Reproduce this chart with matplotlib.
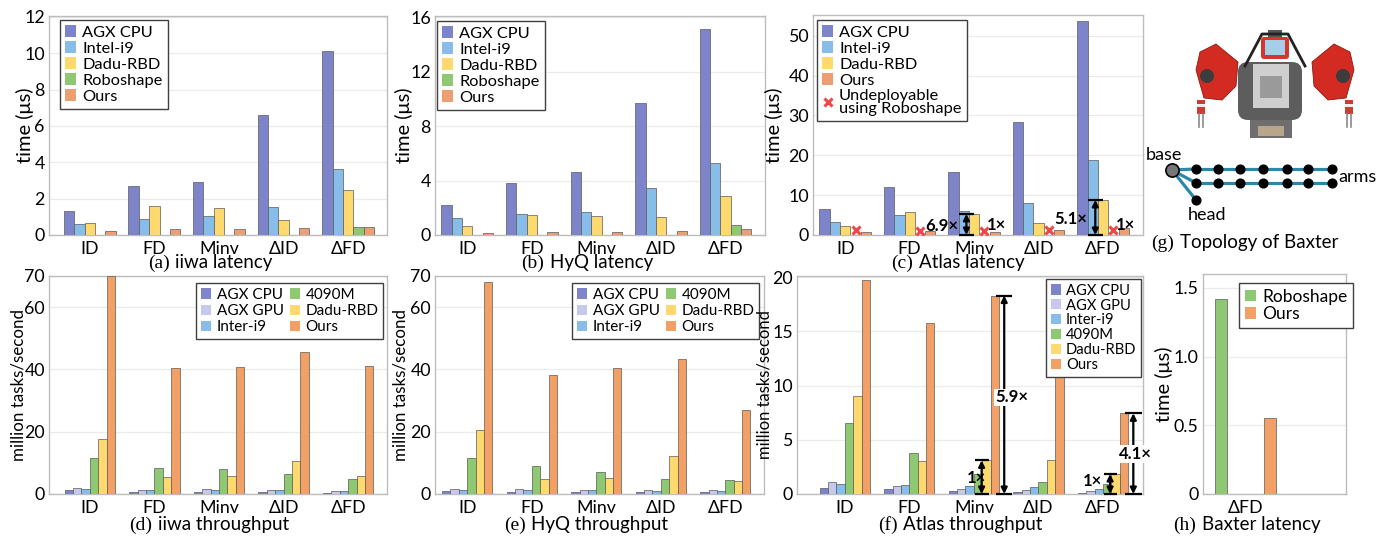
import matplotlib
matplotlib.use('Agg')
import matplotlib.pyplot as plt
from matplotlib.patches import Patch, Rectangle, Polygon, FancyBboxPatch, Circle
from matplotlib.lines import Line2D
from matplotlib.offsetbox import TextArea, HPacker, AnnotationBbox
import numpy as np

W, H = 1381, 540
plt.rcParams['font.family'] = ['Lato', 'DejaVu Sans']
nan = np.nan

groups = ['ID', 'FD', 'Minv', 'ΔID', 'ΔFD']

# ---------------- data ----------------
iiwa_lat_agx_cpu = [1.32, 2.72, 2.92, 6.58, 10.14]
iiwa_lat_intel_i9 = [0.60, 0.88, 1.04, 1.53, 3.62]
iiwa_lat_dadu = [0.64, 1.57, 1.50, 0.82, 2.50]
iiwa_lat_roboshape = [nan, nan, nan, nan, 0.46]
iiwa_lat_ours = [0.24, 0.31, 0.31, 0.37, 0.42]

hyq_lat_agx_cpu = [2.18, 3.85, 4.61, 9.68, 15.12]
hyq_lat_intel_i9 = [1.23, 1.57, 1.69, 3.43, 5.27]
hyq_lat_dadu = [0.64, 1.45, 1.40, 1.35, 2.87]
hyq_lat_roboshape = [nan, nan, nan, nan, 0.74]
hyq_lat_ours = [0.15, 0.22, 0.20, 0.27, 0.42]

atlas_lat_agx_cpu = [6.5, 12.1, 15.8, 28.3, 53.8]
atlas_lat_intel_i9 = [3.35, 5.0, 6.1, 8.0, 18.7]
atlas_lat_dadu = [2.26, 5.8, 5.3, 3.0, 8.8]
atlas_lat_undeployable = [1.2, 1.1, 1.1, 1.2, 1.3]
atlas_lat_ours = [0.75, 0.9, 0.75, 1.25, 1.7]

iiwa_tp_agx_cpu = [1.2, 0.75, 0.75, 0.5, 0.4]
iiwa_tp_agx_gpu = [1.8, 1.4, 1.6, 1.3, 1.0]
iiwa_tp_intel_i9 = [1.6, 1.4, 1.3, 1.2, 1.0]
iiwa_tp_4090m = [11.6, 8.2, 8.0, 6.3, 4.9]
iiwa_tp_dadu = [17.8, 5.4, 5.8, 10.7, 5.8]
iiwa_tp_ours = [70.0, 40.3, 40.9, 45.5, 41.0]

hyq_tp_agx_cpu = [0.85, 0.75, 0.65, 0.5, 0.5]
hyq_tp_agx_gpu = [1.7, 1.5, 1.4, 1.3, 1.2]
hyq_tp_intel_i9 = [1.4, 1.3, 1.3, 1.1, 1.1]
hyq_tp_4090m = [11.4, 9.1, 7.0, 4.9, 4.4]
hyq_tp_dadu = [20.5, 4.9, 5.0, 12.3, 4.3]
hyq_tp_ours = [68.2, 38.1, 40.3, 43.2, 26.9]

atlas_tp_agx_cpu = [0.55, 0.43, 0.3, 0.15, 0.1]
atlas_tp_agx_gpu = [1.15, 0.7, 0.5, 0.35, 0.25]
atlas_tp_intel_i9 = [0.95, 0.8, 0.7, 0.6, 0.45]
atlas_tp_4090m = [6.55, 3.8, 1.8, 1.13, 0.9]
atlas_tp_dadu = [9.0, 3.05, 3.1, 3.1, 1.84]
atlas_tp_ours = [19.75, 15.74, 18.3, 11.2, 7.44]

baxter_groups = ['ΔFD']
baxter_lat_roboshape = [1.42]
baxter_lat_ours = [0.55]

lat_labels = ['AGX CPU', 'Intel-i9', 'Dadu-RBD', 'Roboshape', 'Ours']
tp_labels = ['AGX CPU', 'AGX GPU', 'Inter-i9', '4090M', 'Dadu-RBD', 'Ours']

# ---------------- style ----------------
C_AGX_CPU = '#7d84c9'
C_AGX_GPU = '#c6c9ec'
C_I9 = '#87bde8'
C_DADU = '#fdd96f'
C_ROBO = '#8fc873'
C_OURS_LAT = '#eb9f72'
C_OURS = '#f3a066'
EDGE = '#5a5a5a'
SPINE = '#bdbdbd'
GRID = '#ebebeb'
RED_X = '#f04848'

fig = plt.figure(figsize=(W / 100, H / 100), dpi=100)


def add_ax(l, t, r, b):
    return fig.add_axes([l / W, 1 - b / H, (r - l) / W, (b - t) / H])


def style_ax(ax, xlim, ylim, yticks, ytlabels=None, xt=groups):
    ax.set_xlim(*xlim)
    ax.set_ylim(*ylim)
    ax.set_xticks(np.arange(len(xt)))
    ax.set_xticklabels(xt, fontsize=12.8)
    ax.set_yticks(yticks)
    if ytlabels is not None:
        ax.set_yticklabels(ytlabels)
    ax.tick_params(axis='both', length=0, labelsize=12.8, pad=3)
    ax.tick_params(axis='x', pad=4)
    for s in ax.spines.values():
        s.set_color(SPINE)
        s.set_linewidth(1.0)
    ax.grid(axis='y', color=GRID, linewidth=0.9, zorder=0)
    ax.set_axisbelow(True)


def draw_bars(ax, series, colors, width):
    n = len(series)
    x = np.arange(len(groups))
    for i, (vals, c) in enumerate(zip(series, colors)):
        off = (i - (n - 1) / 2) * width
        ax.bar(x + off, np.array(vals, dtype=float), width, color=c,
               edgecolor=EDGE, linewidth=0.5, zorder=3)


def set_ylabel(ax, text, px_x, l, r, fs=12.5):
    ax.set_ylabel(text, fontsize=fs, va='center')
    ax.yaxis.set_label_coords((px_x - l) / (r - l), 0.5)


def legend(ax, handles, labels, px_left, px_top, fs=11.8, ncol=1, spacing=0.1,
           colsp=0.55):
    lg = ax.legend(handles, labels, loc='upper left',
                   bbox_to_anchor=(px_left / W, 1 - px_top / H),
                   bbox_transform=fig.transFigure, borderaxespad=0,
                   ncol=ncol, fontsize=fs, frameon=True, fancybox=False,
                   framealpha=1, edgecolor='#404040', handlelength=0.68,
                   handleheight=0.68, handletextpad=0.35, borderpad=0.32,
                   labelspacing=spacing, columnspacing=colsp)
    lg.get_frame().set_linewidth(1.0)
    lg.set_zorder(10)
    return lg


def patches(colors):
    return [Patch(facecolor=c, edgecolor='none') for c in colors]


def caption(letter, rest, cx, cy):
    t1 = TextArea(letter, textprops=dict(family='Liberation Serif', size=14))
    t2 = TextArea(rest, textprops=dict(size=13.5))
    box = HPacker(children=[t1, t2], align='baseline', pad=0, sep=4)
    ab = AnnotationBbox(box, (cx / W, 1 - cy / H), xycoords='figure fraction',
                        frameon=False, box_alignment=(0.5, 0.5))
    fig.add_artist(ab)


def bracket(ax, x, top, half, lw=1.6):
    ax.annotate('', xy=(x, top), xytext=(x, 0),
                arrowprops=dict(arrowstyle='<|-|>', color='black', lw=lw,
                                mutation_scale=9, shrinkA=0, shrinkB=0),
                zorder=6, annotation_clip=False)
    ax.hlines([0, top], x - half, x + half, colors='black', linewidth=lw,
              zorder=6, clip_on=False)


lat_colors5 = [C_AGX_CPU, C_I9, C_DADU, C_ROBO, C_OURS_LAT]
tp_colors6 = [C_AGX_CPU, C_AGX_GPU, C_I9, C_ROBO, C_DADU, C_OURS]

# ---------------- (a) iiwa latency ----------------
pa = (49, 16, 387, 235)
ax = add_ax(*pa)
draw_bars(ax, [iiwa_lat_agx_cpu, iiwa_lat_intel_i9, iiwa_lat_dadu,
               iiwa_lat_roboshape, iiwa_lat_ours], lat_colors5, 0.16)
style_ax(ax, (-0.63, 4.6), (0, 12.05), [0, 2, 4, 6, 8, 10, 12])
set_ylabel(ax, 'time (μs)', 25, pa[0], pa[2], fs=14.5)
legend(ax, patches(lat_colors5), lat_labels, 60, 20)

# ---------------- (b) HyQ latency ----------------
pb = (435, 16, 765, 235)
ax = add_ax(*pb)
draw_bars(ax, [hyq_lat_agx_cpu, hyq_lat_intel_i9, hyq_lat_dadu,
               hyq_lat_roboshape, hyq_lat_ours], lat_colors5, 0.16)
style_ax(ax, (-0.5, 4.61), (0, 16.1), [0, 4, 8, 12, 16])
set_ylabel(ax, 'time (μs)', 404, pb[0], pb[2], fs=14.5)
legend(ax, patches(lat_colors5), lat_labels, 437, 21)

# ---------------- (c) Atlas latency ----------------
pc = (813, 15, 1143, 235)
ax = add_ax(*pc)
w = 0.16
xg = np.arange(len(groups))
draw_bars(ax, [atlas_lat_agx_cpu, atlas_lat_intel_i9, atlas_lat_dadu,
               [nan] * 5, atlas_lat_ours], [C_AGX_CPU, C_I9, C_DADU, C_ROBO, C_OURS_LAT], w)
ax.plot(xg + w, atlas_lat_undeployable, ls='none', marker='x', color=RED_X,
        ms=5.5, mew=2.2, zorder=5)
style_ax(ax, (-0.5, 4.62), (0, 55.2), [0, 10, 20, 30, 40, 50])
set_ylabel(ax, 'time (μs)', 774, pc[0], pc[2], fs=14.5)
hc = patches([C_AGX_CPU, C_I9, C_DADU, C_OURS_LAT]) + [
    Line2D([], [], ls='none', marker='x', color=RED_X, ms=5.5, mew=2.2)]
lg = legend(ax, hc, ['AGX CPU', 'Intel-i9', 'Dadu-RBD', 'Ours',
                     'Undeployable\nusing Roboshape'], 817, 20, spacing=0.1)
for t in lg.get_texts():
    t.set_linespacing(0.85)
lat_speedup_labels = ['6.9×', '5.1×']
lat_speedup_text_y = [2.3, 3.9]
for gi, lab, ty in zip([2, 4], lat_speedup_labels, lat_speedup_text_y):
    xa = gi - 0.12
    bracket(ax, xa, atlas_lat_dadu[gi], 0.12)
    ax.text(xa - 0.13, ty, lab, ha='right', va='center', fontsize=12,
            fontweight='bold', zorder=7)
    ax.text(gi + 0.2, 2.4, '1×', ha='left', va='center', fontsize=12,
            fontweight='bold', zorder=7)

# ---------------- (g) Topology of Baxter ----------------
ag = add_ax(1150, 0, 1381, 235)
ag.set_xlim(1150, 1381)
ag.set_ylim(235, 0)
ag.axis('off')
# simplified robot picture
ag.add_patch(Rectangle((1250, 116), 42, 22, facecolor='#6e6e6e', edgecolor='none'))
ag.add_patch(Rectangle((1258, 126), 26, 10, facecolor='#b8a58a', edgecolor='none'))
ag.add_patch(FancyBboxPatch((1238, 62), 64, 58, boxstyle='round,pad=0,rounding_size=10',
                            facecolor='#5d5d5d', edgecolor='none'))
ag.add_patch(Rectangle((1253, 64), 36, 44, facecolor='#cfcfcf', edgecolor='none'))
ag.add_patch(Rectangle((1260, 76), 22, 22, facecolor='#9a9a9a', edgecolor='none'))
ag.add_patch(Rectangle((1268, 30), 14, 8, facecolor='#555555', edgecolor='none'))
ag.add_patch(FancyBboxPatch((1261, 37), 28, 22, boxstyle='round,pad=0,rounding_size=3',
                            facecolor='#d9342b', edgecolor='none'))
ag.add_patch(Rectangle((1265, 40), 20, 15, facecolor='#a8cde8', edgecolor='none'))
for sgn in (-1, 1):
    cx = 1275
    pts = [(1238, 62), (1216, 44), (1200, 52), (1196, 70), (1204, 98), (1222, 100),
           (1236, 86)]
    pts = [(cx + sgn * (px - cx), py) for px, py in pts]
    ag.add_patch(Polygon(pts, closed=True, facecolor='#d32a22', edgecolor='#8a1a14',
                         linewidth=0.6))
    jx = cx + sgn * (1207 - cx)
    ag.add_patch(Circle((jx, 76), 7, facecolor='#3c3c3c', edgecolor='none'))
    gx = cx + sgn * (1201 - cx)
    ag.add_patch(Rectangle((gx - 4, 100), 8, 14, facecolor='#cf3a33', edgecolor='none'))
    ag.add_patch(Rectangle((gx - 4, 104), 8, 3, facecolor='#eeeeee', edgecolor='none'))
    ag.plot([gx - 2, gx - 2], [114, 127], color='#8a8a8a', lw=1.2)
    ag.plot([gx + 2, gx + 2], [114, 127], color='#8a8a8a', lw=1.2)
ag.plot([1245, 1262, 1288, 1305], [66, 34, 34, 66], color='#222222', lw=2)

# topology graph
base_xy = (1172, 170)
arm_rows_y = [169, 183]
arm_nodes_x = [1196, 1218, 1240, 1263, 1287, 1308, 1332]
head_xy = (1196, 200)
TEAL = '#2a88a8'
for yy in arm_rows_y:
    ag.plot([base_xy[0], arm_nodes_x[0]], [base_xy[1], yy], color=TEAL, lw=2.3, zorder=2)
    ag.plot([arm_nodes_x[0], arm_nodes_x[-1]], [yy, yy], color=TEAL, lw=2.3, zorder=2)
    ag.plot(arm_nodes_x, [yy] * len(arm_nodes_x), ls='none', marker='o', ms=6.3,
            color='black', zorder=3)
ag.plot([base_xy[0], head_xy[0]], [base_xy[1], head_xy[1]], color=TEAL, lw=2.3, zorder=2)
ag.plot([head_xy[0]], [head_xy[1]], ls='none', marker='o', ms=6.3, color='black', zorder=3)
ag.plot([base_xy[0]], [base_xy[1]], ls='none', marker='o', ms=9.5, mfc='#777777',
        mec='black', mew=1.2, zorder=4)
ag.text(1164, 155, 'base', ha='center', va='center', fontsize=13)
ag.text(1338, 177, 'arms', ha='left', va='center', fontsize=13)
ag.text(1207, 215, 'head', ha='center', va='center', fontsize=13)

# ---------------- (d) iiwa throughput ----------------
pd_ = (49, 276, 387, 494)
ax = add_ax(*pd_)
draw_bars(ax, [iiwa_tp_agx_cpu, iiwa_tp_agx_gpu, iiwa_tp_intel_i9, iiwa_tp_4090m,
               iiwa_tp_dadu, iiwa_tp_ours], tp_colors6, 0.13)
style_ax(ax, (-0.63, 4.6), (0, 70), [0, 20, 40, 60, 70])
set_ylabel(ax, 'million tasks/second', 18, pd_[0], pd_[2], fs=12.2)
legend(ax, patches(tp_colors6), tp_labels, 196, 283, ncol=2, fs=11, colsp=0.4,
       spacing=0.15)

# ---------------- (e) HyQ throughput ----------------
pe = (435, 276, 764, 494)
ax = add_ax(*pe)
draw_bars(ax, [hyq_tp_agx_cpu, hyq_tp_agx_gpu, hyq_tp_intel_i9, hyq_tp_4090m,
               hyq_tp_dadu, hyq_tp_ours], tp_colors6, 0.13)
style_ax(ax, (-0.5, 4.6), (0, 70), [0, 20, 40, 60, 70])
set_ylabel(ax, 'million tasks/second', 400, pe[0], pe[2], fs=12.2)
legend(ax, patches(tp_colors6), tp_labels, 572, 283, ncol=2, fs=11, colsp=0.4,
       spacing=0.15)

# ---------------- (f) Atlas throughput ----------------
pf = (797, 276, 1143, 494)
ax = add_ax(*pf)
draw_bars(ax, [atlas_tp_agx_cpu, atlas_tp_agx_gpu, atlas_tp_intel_i9, atlas_tp_4090m,
               atlas_tp_dadu, atlas_tp_ours], tp_colors6, 0.13)
style_ax(ax, (-0.74, 4.62), (0, 20.1), [0, 5, 10, 15, 20])
set_ylabel(ax, 'million tasks/second', 765, pf[0], pf[2], fs=12)
legend(ax, patches(tp_colors6), tp_labels, 1046, 279, fs=10.6, spacing=0.06)
# speedup brackets
bracket(ax, 2.12, atlas_tp_dadu[2], 0.11)
ax.text(2.04, 1.5, '1×', ha='center', va='center', fontsize=12, fontweight='bold', zorder=7)
bracket(ax, 2.47, atlas_tp_ours[2], 0.12)
ax.text(2.58, 8.9, '5.9×', ha='center', va='center', fontsize=12, fontweight='bold', zorder=7,
        bbox=dict(facecolor='white', edgecolor='none', pad=0.5))
bracket(ax, 4.11, atlas_tp_dadu[4], 0.1)
ax.text(3.99, 1.2, '1×', ha='right', va='center', fontsize=12, fontweight='bold', zorder=7)
bracket(ax, 4.47, atlas_tp_ours[4], 0.13)
ax.text(4.5, 3.7, '4.1×', ha='center', va='center', fontsize=12, fontweight='bold', zorder=7,
        bbox=dict(facecolor='white', edgecolor='none', pad=0.5))

# ---------------- (h) Baxter latency ----------------
ph = (1203, 274, 1346, 494)
ax = add_ax(*ph)
xb = np.arange(len(baxter_groups))
ax.bar(xb - 0.2, baxter_lat_roboshape, 0.1, color=C_ROBO, edgecolor=EDGE, linewidth=0.5, zorder=3)
ax.bar(xb + 0.2, baxter_lat_ours, 0.1, color=C_OURS, edgecolor=EDGE, linewidth=0.5, zorder=3)
style_ax(ax, (-0.35, 0.83), (0, 1.6), [0, 0.5, 1.0, 1.5], ['0', '0.5', '1.0', '1.5'],
         xt=baxter_groups)
set_ylabel(ax, 'time (μs)', 1164, ph[0], ph[2], fs=14.5)
legend(ax, patches([C_ROBO, C_OURS]), ['Roboshape', 'Ours'], 1239, 283, fs=12.5)

# ---------------- captions ----------------
caption('(a)', 'iiwa latency', 210, 263)
caption('(b)', 'HyQ latency', 587, 263)
caption('(c)', 'Atlas latency', 958, 263)
caption('(g)', 'Topology of Baxter', 1245, 243)
caption('(d)', 'iiwa throughput', 209, 525)
caption('(e)', 'HyQ throughput', 586, 525)
caption('(f)', 'Atlas throughput', 960, 525)
caption('(h)', 'Baxter latency', 1247, 525)

fig.savefig('out.png', dpi=100)
